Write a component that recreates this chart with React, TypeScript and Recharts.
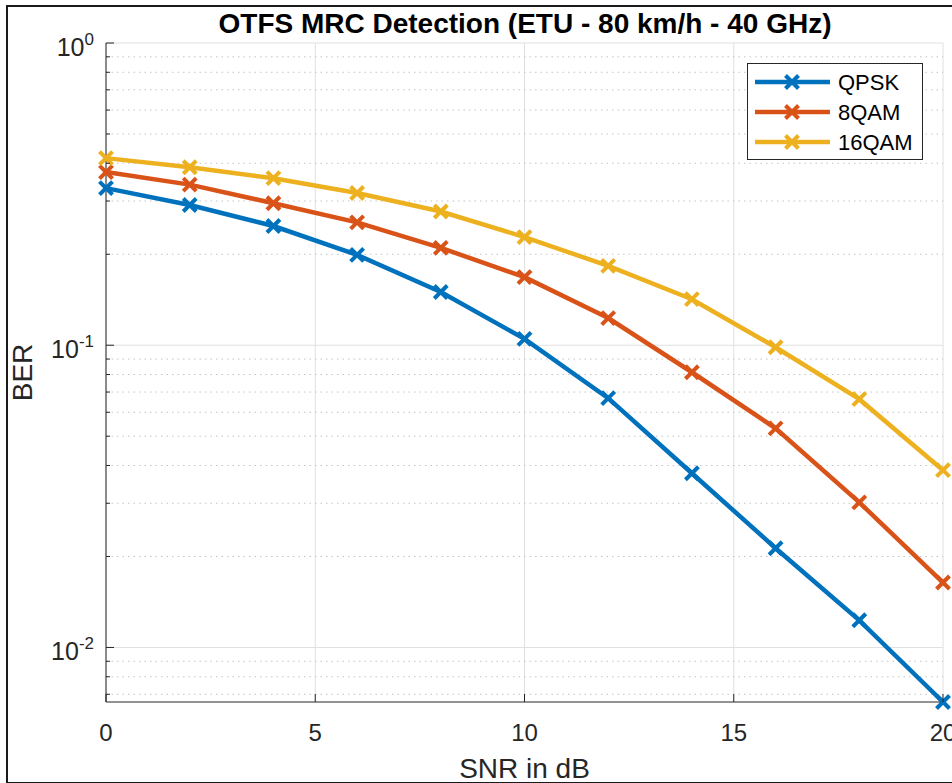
import React from 'react';
import { LineChart, Line, XAxis, YAxis, CartesianGrid, ReferenceLine, Legend } from 'recharts';

const snr = [0, 2, 4, 6, 8, 10, 12, 14, 16, 18, 20];
const qpsk = [0.331, 0.291, 0.248, 0.199, 0.15, 0.105, 0.0668, 0.0377, 0.0213, 0.0123, 0.0066];
const qam8 = [0.374, 0.34, 0.295, 0.255, 0.21, 0.168, 0.123, 0.0814, 0.0531, 0.0302, 0.0164];
const qam16 = [0.416, 0.388, 0.357, 0.319, 0.277, 0.228, 0.183, 0.142, 0.0985, 0.0663, 0.0386];
const seriesNames = ['QPSK', '8QAM', '16QAM'];
const seriesColors = ['#0072BD', '#D95319', '#EDB120'];
const xTicks = [0, 5, 10, 15, 20];
const yMajorTicks = [0.01, 0.1, 1];
const yMinorTicks = [
  0.007, 0.008, 0.009,
  0.02, 0.03, 0.04, 0.05, 0.06, 0.07, 0.08, 0.09,
  0.2, 0.3, 0.4, 0.5, 0.6, 0.7, 0.8, 0.9,
];
const yDomain = [0.0066, 1];
const title = 'OTFS MRC Detection (ETU - 80 km/h - 40 GHz)';
const xLabel = 'SNR in dB';
const yLabel = 'BER';

const seriesValues = [qpsk, qam8, qam16];
const data = snr.map((x, i) => {
  const row: any = { snr: x };
  seriesNames.forEach((n, k) => {
    row[n] = seriesValues[k][i];
  });
  return row;
});
const allYTicks = [...yMinorTicks, ...yMajorTicks].sort((a, b) => a - b);

const FONT = '"Liberation Sans", Arial, Helvetica, sans-serif';
const AX = '#262626';

const XDot = (props: any) => {
  const { cx, cy, stroke, index } = props;
  if (cx == null || cy == null) return <g key={`d-${index}`} />;
  const s = 6.5;
  return (
    <g key={`d-${index}`}>
      <line x1={cx - s} y1={cy - s} x2={cx + s} y2={cy + s} stroke={stroke} strokeWidth={4} />
      <line x1={cx - s} y1={cy + s} x2={cx + s} y2={cy - s} stroke={stroke} strokeWidth={4} />
    </g>
  );
};

const LeftTick = (props: any) => {
  const { x, y, payload } = props;
  const v = payload.value;
  const major = yMajorTicks.includes(v);
  const exp = Math.round(Math.log10(v));
  return (
    <g>
      <line x1={x} x2={x + (major ? 8 : 4)} y1={y} y2={y} stroke={AX} strokeWidth={1} />
      {major && (
        <text x={x - 12} y={y + 13} textAnchor="end" fontSize={25} fill={AX} fontFamily={FONT}>
          10
          <tspan dy={-11} fontSize={17}>{String(exp)}</tspan>
        </text>
      )}
    </g>
  );
};

const RightTick = (props: any) => {
  const { x, y, payload } = props;
  const major = yMajorTicks.includes(payload.value);
  return <line x1={x} x2={x - (major ? 8 : 4)} y1={y} y2={y} stroke={AX} strokeWidth={1} />;
};

const BottomTick = (props: any) => {
  const { x, y, payload } = props;
  return (
    <g>
      <line x1={x} x2={x} y1={y} y2={y - 8} stroke={AX} strokeWidth={1} />
      <text x={x} y={y + 39} textAnchor="middle" fontSize={24} fill={AX} fontFamily={FONT}>
        {payload.value}
      </text>
    </g>
  );
};

const TopTick = (props: any) => {
  const { x, y } = props;
  return <line x1={x} x2={x} y1={y} y2={y + 8} stroke={AX} strokeWidth={1} />;
};

const LegendContent = (props: any) => {
  const payload = [...(props.payload || [])].sort(
    (a: any, b: any) => seriesNames.indexOf(a.value) - seriesNames.indexOf(b.value)
  );
  return (
    <div style={{ border: `1px solid ${AX}`, background: '#fff', width: 174, height: 95 }}>
      <svg width={174} height={95} style={{ display: 'block' }}>
        {payload.map((e: any, i: number) => {
          const cy = 18 + 30 * i;
          return (
            <g key={`lg-${i}`}>
              <line x1={7} x2={82} y1={cy} y2={cy} stroke={e.color} strokeWidth={4.5} />
              <XDot cx={44} cy={cy} stroke={e.color} index={i} />
              <text x={90} y={cy + 8} fontSize={22} fill="#000" fontFamily={FONT}>
                {e.value}
              </text>
            </g>
          );
        })}
      </svg>
    </div>
  );
};

export default function App() {
  return (
    <div
      style={{
        position: 'absolute',
        left: 0,
        top: 0,
        width: 952,
        height: 783,
        overflow: 'hidden',
        background: '#fff',
        fontFamily: FONT,
      }}
    >
      <div
        style={{
          position: 'absolute',
          left: 6,
          top: 5,
          width: 1000,
          height: 775,
          border: '2px solid #1a1a1a',
          pointerEvents: 'none',
        }}
      />
      <div style={{ position: 'absolute', left: 0, top: 0 }}>
        <LineChart width={952} height={783} data={data} margin={{ top: 43, right: 9, bottom: 0, left: 0 }}>
          <CartesianGrid horizontal={false} vertical={true} stroke="#e0e0e0" strokeWidth={1} />
          {yMinorTicks.map((v) => (
            <ReferenceLine key={`mn-${v}`} y={v} stroke="#c4c4c4" strokeDasharray="1.5 4" strokeWidth={1} />
          ))}
          {yMajorTicks.map((v) => (
            <ReferenceLine key={`mj-${v}`} y={v} stroke="#e0e0e0" strokeWidth={1} />
          ))}
          <XAxis
            dataKey="snr"
            type="number"
            domain={[0, 20]}
            ticks={xTicks}
            height={81}
            tickSize={0}
            tickMargin={0}
            tickLine={false}
            axisLine={{ stroke: AX, strokeWidth: 1 }}
            tick={<BottomTick />}
            interval={0}
            label={(p: any) => {
              const vb = p.viewBox || {};
              return (
                <text x={vb.x + vb.width / 2} y={vb.y + 76} textAnchor="middle" fontSize={28} fill={AX} fontFamily={FONT}>
                  {xLabel}
                </text>
              );
            }}
          />
          <XAxis
            xAxisId="top"
            orientation="top"
            dataKey="snr"
            type="number"
            domain={[0, 20]}
            ticks={xTicks}
            height={0}
            tickSize={0}
            tickMargin={0}
            tickLine={false}
            axisLine={{ stroke: AX, strokeWidth: 1 }}
            tick={<TopTick />}
            interval={0}
          />
          <YAxis
            scale="log"
            type="number"
            domain={yDomain}
            ticks={allYTicks}
            width={106}
            tickSize={0}
            tickMargin={0}
            tickLine={false}
            axisLine={{ stroke: AX, strokeWidth: 1 }}
            tick={<LeftTick />}
            interval={0}
            label={(p: any) => {
              const vb = p.viewBox || {};
              const cy = vb.y + vb.height / 2;
              return (
                <text
                  x={32}
                  y={cy}
                  transform={`rotate(-90, 32, ${cy})`}
                  textAnchor="middle"
                  fontSize={28}
                  fill={AX}
                  fontFamily={FONT}
                >
                  {yLabel}
                </text>
              );
            }}
          />
          <YAxis
            yAxisId="right"
            orientation="right"
            scale="log"
            type="number"
            domain={yDomain}
            ticks={allYTicks}
            width={0}
            tickSize={0}
            tickMargin={0}
            tickLine={false}
            axisLine={{ stroke: AX, strokeWidth: 1 }}
            tick={<RightTick />}
            interval={0}
          />
          <Legend
            layout="horizontal"
            verticalAlign="middle"
            align="center"
            width={176}
            height={97}
            wrapperStyle={{ left: 747, top: 63, width: 176, height: 97 }}
            content={<LegendContent />}
          />
          {seriesNames.map((n, k) => (
            <Line
              key={n}
              type="linear"
              dataKey={n}
              name={n}
              stroke={seriesColors[k]}
              strokeWidth={4.5}
              dot={(p: any) => <XDot key={`dot-${n}-${p.index}`} {...p} stroke={seriesColors[k]} />}
              activeDot={false}
              isAnimationActive={false}
            />
          ))}
        </LineChart>
      </div>
      <svg width={952} height={42} style={{ position: 'absolute', left: 0, top: 0 }}>
        <text x={525} y={33} textAnchor="middle" fontSize={28} fontWeight="bold" fill="#000" fontFamily={FONT}>
          {title}
        </text>
      </svg>
    </div>
  );
}
